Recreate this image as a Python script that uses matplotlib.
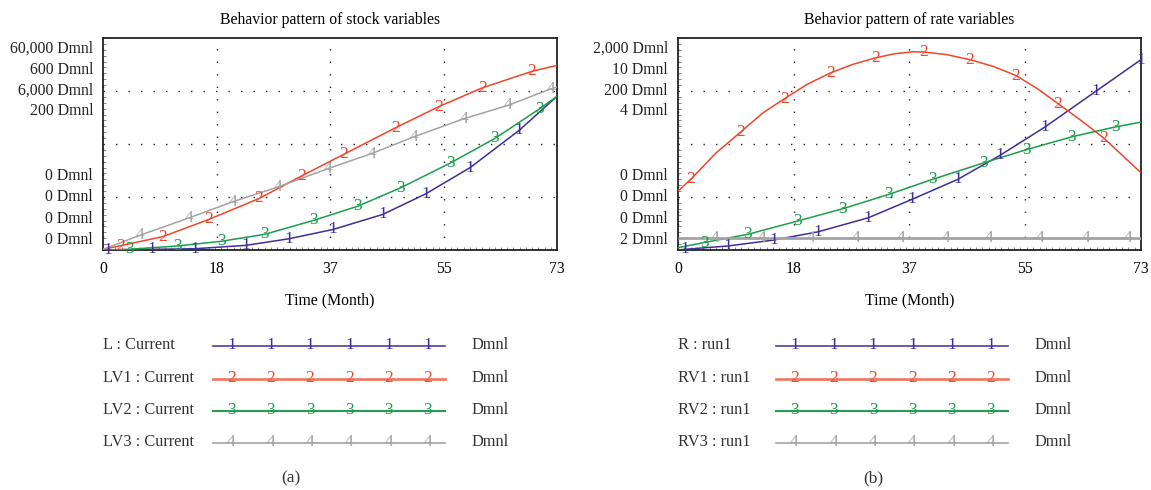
import numpy as np
import matplotlib
matplotlib.use("Agg")
import matplotlib.pyplot as plt
from matplotlib.ticker import MultipleLocator

plt.rcParams['font.family'] = ['Liberation Serif', 'DejaVu Serif']

# ---- stock variables (panel a), values in Dmnl ----
t_L = [0, 0.7, 7.8, 14.8, 23, 29.9, 37, 45, 51.9, 59, 66.9, 73]
L = [0, 0, 180, 360, 1320, 3180, 5820, 10080, 15900, 23280, 33840, 43500]
t_LV1 = [0, 3.1, 9.6, 17.0, 25.1, 31.9, 38.7, 47.0, 53.9, 61.0, 69.0, 73]
LV1 = [1.8, 13.2, 37.8, 86.4, 145.8, 209.4, 270.6, 345.6, 405, 459, 505.8, 522.6]
t_LV2 = [0, 4, 12, 19, 26, 33.9, 41, 47.9, 55.9, 63, 70.2, 73]
LV2 = [0, 18, 114, 246, 444, 840, 1242, 1764, 2466, 3156, 3996, 4350]
t_LV3 = [0, 5.9, 13.9, 20.9, 28.2, 36.1, 43.2, 50, 58, 65.2, 72, 73]
LV3 = [0.6, 13.8, 30.4, 45.6, 59.6, 76.6, 91, 106.8, 123.8, 136.6, 152, 153.8]

# ---- rate variables (panel b) ----
t_R = [0, 1, 7.9, 15.1, 22.1, 30, 36.9, 44.1, 50.8, 57.9, 65.9, 73]
R = [0, 6, 38, 94, 172, 304, 478, 666, 894, 1162, 1498, 1796]
t_RV1 = [0, 2, 5.9, 9.9, 13.3, 16.8, 20.4, 24, 27.5, 31.1, 34.0, 37, 38.7, 42.3,
         46, 49.7, 53.3, 56.6, 59.9, 63.5, 67.1, 73]
RV1 = [2.78, 3.33, 4.55, 5.57, 6.45, 7.14, 7.82, 8.35, 8.75, 9.06, 9.25, 9.35,
       9.34, 9.22, 8.98, 8.66, 8.23, 7.62, 6.91, 6.12, 5.29, 3.64]
t_RV2 = [0, 4.1, 11, 18.9, 26, 33.2, 40.1, 48.2, 55, 62.1, 69, 73]
RV2 = [2.2, 7, 14.8, 27.4, 39, 52.4, 66.6, 82.2, 94.8, 106.8, 116.2, 120.6]
t_RV3 = [0, 73]
RV3 = [2.11, 2.11]

# scale (min, max) of each variable, as printed on the axis
scale_a = [(0, 60000), (0, 600), (0, 6000), (0, 200)]
scale_b = [(0, 2000), (0, 10), (0, 200), (2, 4)]
top_a = ["60,000 Dmnl", "600 Dmnl", "6,000 Dmnl", "200 Dmnl"]
bot_a = ["0 Dmnl", "0 Dmnl", "0 Dmnl", "0 Dmnl"]
top_b = ["2,000 Dmnl", "10 Dmnl", "200 Dmnl", "4 Dmnl"]
bot_b = ["0 Dmnl", "0 Dmnl", "0 Dmnl", "2 Dmnl"]
names_a = ["L : Current", "LV1 : Current", "LV2 : Current", "LV3 : Current"]
names_b = ["R : run1", "RV1 : run1", "RV2 : run1", "RV3 : run1"]

# where the series numbers sit along each curve (months)
marks_a = [[0.7, 7.8, 14.8, 23, 29.9, 37, 45, 51.9, 59, 66.9],
           [2.8, 9.6, 17, 25.1, 31.9, 38.7, 47, 53.9, 61, 69],
           [4.3, 12, 19, 26, 33.9, 41, 47.9, 55.9, 63, 70.2],
           [5.9, 13.9, 20.9, 28.2, 36.1, 43.2, 50, 58, 65.2, 72]]
marks_b = [[1, 7.9, 15.1, 22.1, 30, 36.9, 44.1, 50.8, 57.9, 65.9, 73],
           [2, 9.9, 16.8, 24, 31.1, 38.7, 46, 53.3, 59.9, 67.1],
           [4.1, 11, 18.9, 26, 33.2, 40.1, 48.2, 55, 62.1, 69],
           [5.9, 13.2, 21, 28, 35.1, 42.2, 49, 57, 64.4, 71]]

colors = ['#3b2f9a', '#f2452a', '#1b9e4b', '#a3a3a3']
leg_colors = ['#4a3f9e', '#f2735f', '#22a050', '#a3a3a3']
leg_lw = [1.2, 1.9, 1.5, 1.2]
xticks = [0, 18.25, 36.5, 54.75, 73]
xlabels = ['0', '18', '37', '55', '73']
FS = 11.3
DS = 12.5  # size of the digits on the curves

fig = plt.figure(figsize=(11.51, 4.90), dpi=100)


def panel(rect, series, scales, marks, top, bot, title, lw):
    ax = fig.add_axes(rect)
    for k, (t, v) in enumerate(series):
        lo, hi = scales[k]
        y = (np.array(v, float) - lo) / (hi - lo)
        ax.plot(t, y, color=colors[k], lw=lw[k], solid_capstyle='butt', zorder=3)
        ym = np.interp(marks[k], t, y)
        for xm, yy in zip(marks[k], ym):
            ax.text(xm, yy, str(k + 1), color=colors[k], fontsize=DS,
                    ha='center', va='center', zorder=4)
    ax.set_xlim(0, 73)
    ax.set_ylim(0, 1)
    ax.set_xticks(xticks)
    ax.set_xticklabels(xlabels, fontsize=FS)
    ax.set_yticks([0.25, 0.5, 0.75])
    ax.set_yticklabels([])
    ax.tick_params(axis='both', which='major', length=0, pad=8)
    ax.xaxis.set_minor_locator(MultipleLocator(1))
    ax.yaxis.set_minor_locator(MultipleLocator(1 / 36))
    ax.tick_params(which='minor', direction='in', length=2.5, width=0.5,
                   color='#555555')
    ax.grid(True, which='major', color='#222222', lw=1.0,
            linestyle=(0, (1, 8)))
    for s in ax.spines.values():
        s.set_linewidth(1.3)
        s.set_color('#222222')
    ax.set_xlabel('Time (Month)', fontsize=FS, labelpad=11)
    ax.set_title(title, fontsize=FS, pad=10)
    for lab, yy in zip(top, [0.948, 0.849, 0.752, 0.655]):
        ax.annotate(lab, (0, yy), xycoords='axes fraction', xytext=(-10, 0),
                    textcoords='offset pixels', ha='right', va='center',
                    fontsize=FS, color='#222222')
    for lab, yy in zip(bot, [0.349, 0.25, 0.148, 0.047]):
        ax.annotate(lab, (0, yy), xycoords='axes fraction', xytext=(-10, 0),
                    textcoords='offset pixels', ha='right', va='center',
                    fontsize=FS, color='#222222')
    return ax


panel([103 / 1151, 1 - 250 / 490, 454 / 1151, 212 / 490],
      [(t_L, L), (t_LV1, LV1), (t_LV2, LV2), (t_LV3, LV3)],
      scale_a, marks_a, top_a, bot_a, 'Behavior pattern of stock variables',
      [1.1, 1.1, 1.1, 1.1])
panel([678 / 1151, 1 - 250 / 490, 463 / 1151, 212 / 490],
      [(t_R, R), (t_RV1, RV1), (t_RV2, RV2), (t_RV3, RV3)],
      scale_b, marks_b, top_b, bot_b, 'Behavior pattern of rate variables',
      [1.1, 1.1, 1.1, 2.0])

# legends drawn in pixel coordinates
lg = fig.add_axes([0, 0, 1, 1])
lg.set_xlim(0, 1151)
lg.set_ylim(490, 0)
lg.axis('off')
rows = [345, 378, 410, 442]
for x_text, x0, x1, x_unit, names in [(103, 213, 445, 472, names_a),
                                      (678, 776, 1008, 1035, names_b)]:
    for k, (yy, nm) in enumerate(zip(rows, names)):
        lg.text(x_text, yy, nm, fontsize=11.8, ha='left', va='center',
                color='#333333')
        lg.plot([x0, x1], [yy + 1, yy + 1], color=leg_colors[k], lw=leg_lw[k])
        for xm in np.linspace(x0 + 18.5, x1 - 17, 6):
            lg.text(xm, yy, str(k + 1), color=colors[k], fontsize=DS,
                    ha='center', va='center')
        lg.text(x_unit, yy, 'Dmnl', fontsize=11.8, ha='left', va='center',
                color='#333333')
lg.text(291, 478, '(a)', fontsize=12.5, ha='center', va='center', color='#333333')
lg.text(873, 478, '(b)', fontsize=12.5, ha='center', va='center', color='#333333')

fig.savefig('out.png', dpi=100)
